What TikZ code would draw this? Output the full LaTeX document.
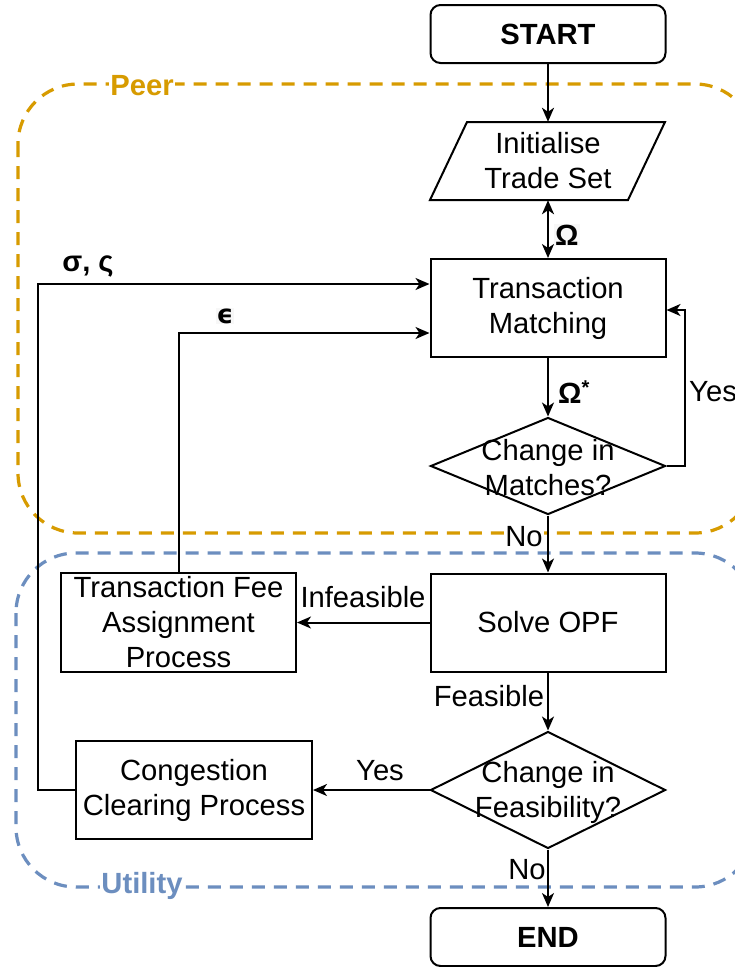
\documentclass[tikz,border=0pt]{standalone}
\usepackage{fontspec}
\setmainfont{Liberation Sans}
\newfontfamily\dvfont{DejaVu Sans}
\usetikzlibrary{arrows.meta,shapes.geometric,calc}
\definecolor{peercol}{HTML}{D79B00}
\definecolor{utilcol}{HTML}{6C8EBF}
\definecolor{lblbg}{HTML}{F7F7F7}
\tikzset{
  txt/.style={font=\fontsize{29.2}{35}\selectfont, align=center},
  box/.style={txt, draw, line width=2pt, minimum width=235pt, minimum height=98pt, inner sep=0pt, fill=white},
  term/.style={box, rounded corners=10pt, minimum height=58pt, font=\fontsize{29.2}{35}\selectfont\bfseries},
  dia/.style={draw, diamond, line width=2pt, minimum width=235pt, minimum height=97pt, inner sep=0pt, fill=white},
  arr/.style={line width=2pt, -{Stealth[length=14pt,width=12pt,inset=4pt]}},
  dbl/.style={line width=2pt, {Stealth[length=14pt,width=12pt,inset=4pt]}-{Stealth[length=14pt,width=12pt,inset=4pt]}},
  lbl/.style={txt, inner sep=1pt},
  region/.style={line width=3.2pt, dash pattern=on 13pt off 9pt, rounded corners=60pt},
  rlbl/.style={font=\fontsize{29.2}{35}\selectfont\bfseries, fill=white, inner sep=1pt}
}
\begin{document}
\begin{tikzpicture}[x=1pt,y=-1pt]
\useasboundingbox (0,0) rectangle (735,967);
\fill[white] (0,0) rectangle (735,967);
% regions
\begin{scope}
\clip (0,0) rectangle (735,967);
\draw[region, peercol] (18,84) rectangle (755,533);
\draw[region, utilcol] (16,553) rectangle (755,887);
\end{scope}
\node[rlbl, text=peercol] (peerlbl) at (142,86) {Peer};
\node[rlbl, text=utilcol] (utillbl) at (142,886) {Utility};
% nodes
\node[term] (start) at (548,34) {START};
\draw[line width=2pt, fill=white] (467,122) -- (665,122) -- (628,200) -- (430,200) -- cycle;
\node[txt, minimum width=235pt, minimum height=78pt, inner sep=0pt] (init) at (548,161) {Initialise\\Trade Set};
\node[box] (tm) at (548,308) {Transaction\\Matching};
\node[dia] (d1) at (548,466) {};
\node[txt, inner sep=0pt] (d1t) at (548,468) {Change in\\Matches?};
\node[box] (opf) at (548,622.5) {Solve OPF};
\node[box, minimum height=99pt] (fee) at (178.5,622.5) {Transaction Fee\\Assignment\\Process};
\node[dia, minimum height=117pt] (d2) at (548,790) {};
\node[txt, inner sep=0pt] (d2t) at (548,792) {Change in\\Feasibility?};
\node[box, minimum width=236pt] (cc) at (194,790) {Congestion\\Clearing Process};
\node[term] (end) at (548,937) {END};
% connectors
\draw[arr] (start) -- (init);
\draw[dbl] (init.south) -- (tm.north);
\draw[arr] (tm) -- (d1);
\coordinate (yesc) at (685,466);
\draw[arr] (d1.east) -- (yesc) |- ([yshift=-2pt]tm.east);
\draw[arr] (d1.south) -- (opf.north);
\draw[arr] (opf.west) -- (fee.east);
\draw[arr] (fee.north) |- ([yshift=-25pt]tm.west);
\draw[arr] (opf.south) -- (d2.north);
\draw[arr] (d2.west) -- (cc.east);
\coordinate (ccl) at (38,790);
\draw[arr] (cc.west) -- (ccl) |- ([yshift=24pt]tm.west);
\draw[arr] (d2.south) -- (end.north);
% labels
\node[lbl, fill=lblbg, anchor=west, font=\fontsize{29.2}{35}\selectfont\bfseries] (lomega) at (554,235) {Ω};
\node[lbl, anchor=west, font=\fontsize{29.2}{35}\selectfont\bfseries] (lomegas) at (557,392) {Ω\raisebox{9pt}{\fontsize{20}{20}\selectfont *}};
\node[lbl, anchor=west] (lyes1) at (688,392) {Yes};
\node[lbl, fill=white] (lno1) at (524,537) {No};
\node[lbl] (linf) at (363,597) {Infeasible};
\node[lbl] (lfeas) at (489,696) {Feasible};
\node[lbl] (lyes2) at (380,771) {Yes};
\node[lbl] (lno2) at (527,870) {No};
\node[lbl, font=\fontsize{29.2}{35}\selectfont\bfseries] (lsig) at (88,266) {σ, ς};
\node[lbl, fill=lblbg, font=\fontsize{26}{30}\dvfont\bfseries] (leps) at (225,316) {ϵ};
\end{tikzpicture}
\end{document}
